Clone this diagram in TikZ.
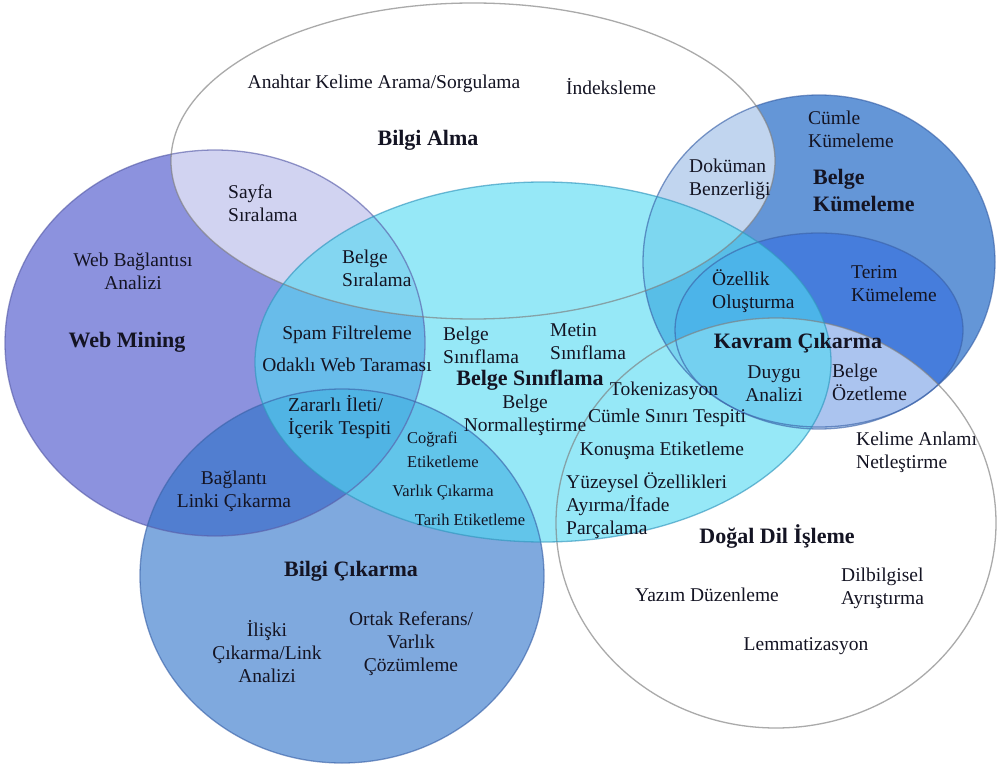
\documentclass[tikz,border=0pt]{standalone}
\usepackage{fontspec}
\setmainfont{Liberation Serif}
\definecolor{kumeC}{RGB}{100,150,215}
\definecolor{kavramC}{RGB}{70,125,220}
\definecolor{webC}{RGB}{140,146,222}
\definecolor{bcC}{RGB}{43,113,200}
\definecolor{bsC}{RGB}{80,217,242}
\definecolor{grayline}{RGB}{125,125,125}
\definecolor{kumeL}{RGB}{60,100,170}
\definecolor{webL}{RGB}{90,95,170}
\definecolor{bsL}{RGB}{50,150,190}
\definecolor{txt}{RGB}{20,20,35}
\begin{document}
\begin{tikzpicture}[x=1pt,y=-1pt,
  lab/.style={inner sep=0pt, align=center, text=txt, font=\fontsize{19.5}{23}\selectfont},
  labl/.style={lab, align=left, anchor=west},
  boldlab/.style={inner sep=0pt, align=center, text=txt, font=\fontsize{22}{27}\selectfont\bfseries},
  boldlabl/.style={boldlab, align=left, anchor=west},
  smalllab/.style={inner sep=0pt, align=left, text=txt, font=\fontsize{16.5}{24}\selectfont},
  outl/.style={line width=1.3pt, draw opacity=0.65},
]
\fill[white] (0,0) rectangle (998,767);
\useasboundingbox (0,0) rectangle (998,767);
% fills
\fill[kumeC] (819,262) ellipse [x radius=176pt, y radius=167pt];
\fill[kavramC] (819,330) ellipse [x radius=144pt, y radius=97pt];
\fill[webC] (215,343) ellipse [x radius=210pt, y radius=193pt];
\fill[white, fill opacity=0.6] (473,161) ellipse [x radius=302pt, y radius=158pt];
\fill[bcC, fill opacity=0.6] (342,576) ellipse [x radius=202pt, y radius=187pt];
\fill[white, fill opacity=0.55] (776,523) ellipse [x radius=220pt, y radius=205pt];
\fill[bsC, fill opacity=0.6] (543,362) ellipse [x radius=288pt, y radius=180pt];
% outlines
\draw[outl, kumeL] (819,262) ellipse [x radius=176pt, y radius=167pt];
\draw[outl, kumeL] (819,330) ellipse [x radius=144pt, y radius=97pt];
\draw[outl, webL] (215,343) ellipse [x radius=210pt, y radius=193pt];
\draw[outl, grayline] (473,161) ellipse [x radius=302pt, y radius=158pt];
\draw[outl, kumeL] (342,576) ellipse [x radius=202pt, y radius=187pt];
\draw[outl, grayline] (776,523) ellipse [x radius=220pt, y radius=205pt];
\draw[outl, bsL] (543,362) ellipse [x radius=288pt, y radius=180pt];
% bold titles
\node[boldlab] (ba) at (428,140) {Bilgi Alma};
\node[boldlab] (wm) at (127,342) {Web Mining};
\node[boldlab] (bs) at (530,380) {Belge Sınıflama};
\node[boldlabl] (bk) at (813,191) {Belge\\Kümeleme};
\node[boldlab] (kc) at (798,343) {Kavram Çıkarma};
\node[boldlab] (bc) at (351,571) {Bilgi Çıkarma};
\node[boldlab] (dd) at (777,536) {Doğal Dil İşleme};
% items
\node[lab] (t1) at (384,84) {Anahtar Kelime Arama/Sorgulama};
\node[lab] (t2) at (611,87) {İndeksleme};
\node[labl] (t3) at (228,203) {Sayfa\\Sıralama};
\node[lab] (t4) at (133,271) {Web Bağlantısı\\Analizi};
\node[labl] (t5) at (342,268) {Belge\\Sıralama};
\node[lab] (t6) at (347,335) {Spam Filtreleme};
\node[lab] (t7) at (347,365) {Odaklı Web Taraması};
\node[labl] (t8) at (443,345) {Belge\\Sınıflama};
\node[labl] (t9) at (550,342) {Metin\\Sınıflama};
\node[lab] (t10) at (525,415) {Belge\\Normalleştirme};
\node[lab] (t11) at (664,391) {Tokenizasyon};
\node[lab] (t12) at (667,418) {Cümle Sınırı Tespiti};
\node[lab] (t13) at (662,451) {Konuşma Etiketleme};
\node[labl] (t14) at (566,506) {Yüzeysel Özellikleri\\Ayırma/İfade\\Parçalama};
\node[lab] (t15) at (707,595) {Yazım Düzenleme};
\node[labl] (t16) at (841,588) {Dilbilgisel\\Ayrıştırma};
\node[lab] (t17) at (806,646) {Lemmatizasyon};
\node[labl] (t18) at (856,452) {Kelime Anlamı\\Netleştirme};
\node[labl] (t19) at (832,382) {Belge\\Özetleme};
\node[lab] (t20) at (774,384) {Duygu\\Analizi};
\node[labl] (t21) at (712,291) {Özellik\\Oluşturma};
\node[labl] (t22) at (851,284) {Terim\\Kümeleme};
\node[labl] (t23) at (808,129) {Cümle\\Kümeleme};
\node[labl] (t24) at (689,179) {Doküman\\Benzerliği};
\node[labl] (t25) at (288,417) {Zararlı İleti/\\İçerik Tespiti};
\node[smalllab, anchor=west] (t26) at (407,450) {Coğrafi\\Etiketleme};
\node[smalllab] (t27) at (443,493) {Varlık Çıkarma};
\node[smalllab] (t28) at (470,520) {Tarih Etiketleme};
\node[lab] (t29) at (234,491) {Bağlantı\\Linki Çıkarma};
\node[lab] (t30) at (267,652) {İlişki\\Çıkarma/Link\\Analizi};
\node[lab] (t31) at (411,644) {Ortak Referans/\\Varlık\\Çözümleme};
\end{tikzpicture}
\end{document}
